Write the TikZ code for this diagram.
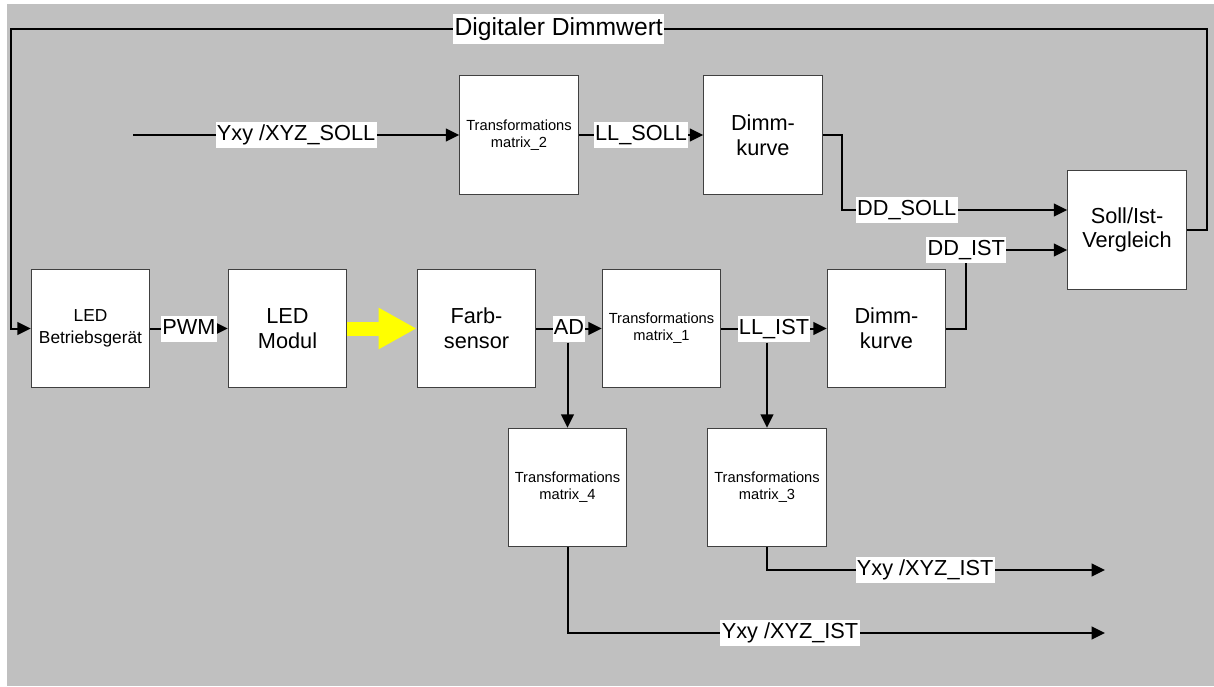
\documentclass[tikz,border=0pt]{standalone}
\usepackage{fontspec}
\setmainfont{Liberation Sans}
\usetikzlibrary{arrows.meta,positioning}
\definecolor{panelgray}{RGB}{192,192,192}
\definecolor{lightbeam}{RGB}{255,255,0}
\tikzset{
  blockbox/.style={
    draw=black!75,
    fill=white,
    line width=0.8pt,
    align=center,
    inner sep=1pt,
    minimum width=89pt,
    minimum height=89pt,
    font=\fontsize{16.3}{18.5}\selectfont
  },
  matbox/.style={
    blockbox,
    font=\fontsize{11}{12.8}\selectfont
  },
  ledbox/.style={
    blockbox,
    font=\fontsize{13}{16.5}\selectfont
  },
  sig/.style={
    fill=white,
    inner xsep=1pt,
    inner ysep=1.5pt,
    text height=12.5pt,
    text depth=4pt,
    font=\fontsize{16.3}{18.5}\selectfont
  },
  biglabel/.style={
    sig,
    inner ysep=2pt,
    text height=14pt,
    text depth=5pt,
    font=\fontsize{18.5}{21}\selectfont
  },
  flow/.style={-{Triangle[length=10pt,width=9.5pt]},line width=1.5pt}
}

\begin{document}
\begin{tikzpicture}[x=0.75pt,y=-0.75pt]
\useasboundingbox (0,0) rectangle (1214,686);
\fill[panelgray] (7,4) rectangle (1214,686);
\node[ledbox] (betrieb) at (90.5,328.5) {LED\\Betriebsgerät};
\node[blockbox] (modul) at (287.5,328.5) {LED\\Modul};
\node[blockbox] (sensor) at (476.5,328.5) {Farb-\\sensor};
\node[matbox] (matrixA) at (661.5,328.5) {Transformations\\matrix\_1};
\node[blockbox] (dimmIst) at (886.5,328.5) {Dimm-\\kurve};
\node[blockbox] (vergleich) at (1127,230) {Soll/Ist-\\Vergleich};
\node[matbox] (matrixB) at (519,135) {Transformations\\matrix\_2};
\node[blockbox] (dimmSoll) at (763,135) {Dimm-\\kurve};
\node[matbox] (matrixD) at (567.5,487.5) {Transformations\\matrix\_4};
\node[matbox] (matrixC) at (767,487.5) {Transformations\\matrix\_3};
\coordinate (sollIn) at (133,135);
\coordinate (istOutC) at (1105,570);
\coordinate (istOutD) at (1105,633);
\coordinate (loopL) at (11,29);
\draw[flow] (sollIn) -- node[sig] {Yxy /XYZ\_SOLL} (matrixB.west);
\draw[flow] (matrixB.east) -- node[sig] {LL\_SOLL} (dimmSoll.west);
\draw[flow] (dimmSoll.east) -- ++(19,0) |- node[sig,pos=0.644] {DD\_SOLL} ([yshift=15pt]vergleich.west);
\draw[flow] (dimmIst.east) -- ++(20,0) |- node[sig,pos=0.5] {DD\_IST} ([yshift=-15pt]vergleich.west);
\draw[flow] (vergleich.east) -- ++(20,0) |- node[biglabel,pos=0.771] {Digitaler Dimmwert} (loopL) |- (betrieb.west);
\draw[flow] (betrieb.east) -- node[sig] {PWM} (modul.west);
\draw[lightbeam,line width=10.5pt,-{Triangle[length=28.5pt,width=29pt]}] (modul.east) -- (sensor.west);
\draw[flow] (sensor.east) -- node[sig] (adSig) {AD} (matrixA.west);
\draw[flow] (matrixA.east) -- node[sig] (llIst) {LL\_IST} (dimmIst.west);
\draw[flow] (adSig.south -| matrixD) -- (matrixD.north);
\draw[flow] (llIst.south -| matrixC) -- (matrixC.north);
\draw[flow] (matrixC.south) |- node[sig,pos=0.734] {Yxy /XYZ\_IST} (istOutC);
\draw[flow] (matrixD.south) |- node[sig,pos=0.707] {Yxy /XYZ\_IST} (istOutD);
\end{tikzpicture}
\end{document}
